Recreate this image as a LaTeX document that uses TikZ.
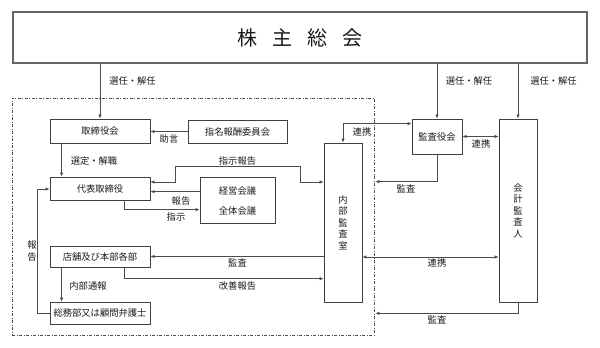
\documentclass[tikz,border=0pt]{standalone}
\usepackage{fontspec}
\newfontfamily\jp{Noto Sans CJK JP}
\usetikzlibrary{arrows.meta,calc}
\begin{document}
\begin{tikzpicture}[x=1pt,y=-1pt,
  txt/.style={font=\jp\fontsize{9.3}{11.5}\selectfont, text=black!90},
  box/.style={txt, draw=black!75, line width=0.8pt, inner sep=0pt, rectangle, align=center},
  lbl/.style={txt, inner sep=0pt, align=center},
  conn/.style={draw=black!70, line width=0.7pt},
  arr/.style={conn, -{Latex[length=4pt,width=3.5pt]}},
  darr/.style={conn, {Latex[length=4pt,width=3.5pt]}-{Latex[length=4pt,width=3.5pt]}},
  dashbox/.style={draw=black!70, line width=0.7pt, dash pattern=on 3pt off 1.5pt on 1pt off 1.5pt, inner sep=0pt}
]
\useasboundingbox (0,0) rectangle (600,348);

% dashed frame
\node[dashbox, minimum width=362pt, minimum height=237pt] (frame) at (193,216.5) {};

% nodes
\node[box, draw=black!60, line width=1.6pt, minimum width=574pt, minimum height=51pt,
      font=\jp\fontsize{20}{24}\selectfont] (gm) at (300,37.5) {株\hspace{15pt}主\hspace{15pt}総\hspace{15pt}会};
\node[box, minimum width=100pt, minimum height=24pt] (tori) at (100,131) {取締役会};
\node[box, minimum width=99pt, minimum height=23pt] (shimei) at (237.5,131.5) {指名報酬委員会};
\node[box, minimum width=100pt, minimum height=23pt] (daihyo) at (100,188.5) {代表取締役};
\node[box, minimum width=75pt, minimum height=46pt] (keiei) at (237.5,200) {};
\node[lbl] (k1) at (237.5,191) {経営会議};
\node[lbl] (k2) at (237.5,211) {全体会議};
\node[box, minimum width=100pt, minimum height=21pt] (tenpo) at (100,256.5) {店舗及び本部各部};
\node[box, minimum width=100pt, minimum height=22pt] (somu) at (100,313) {総務部又は顧問弁護士};
\node[box, minimum width=38pt, minimum height=159pt] (naibu) at (343,222.5) {内\\部\\監\\査\\室};
\node[box, minimum width=50pt, minimum height=35pt] (kansa) at (437,136.5) {監査役会};
\node[box, minimum width=38pt, minimum height=183pt] (kaikei) at (518,210.5) {会\\計\\監\\査\\人};

% helper coordinates
\coordinate (ps) at ($(daihyo.east)+(0,-6.5)$);
\coordinate (rk) at ($(keiei.north west)+(0,15)$);
\coordinate (sj) at ($(keiei.north west)+(0,33)$);
\coordinate (kz) at ($(naibu.north west)+(0,136)$);
\coordinate (r3) at (430,257);
\coordinate (ka1) at ($(frame.north east)+(1,84)$);
\coordinate (ka2) at ($(frame.south east)+(1,-22)$);

% connectors from shareholders meeting
\draw[arr] (gm.south -| tori.north) -- (tori.north);
\draw[arr] (gm.south -| kansa.north) -- (kansa.north);
\draw[arr] (gm.south -| kaikei.north) -- (kaikei.north);
\node[lbl] (l1) at (132.5,81) {選任・解任};
\node[lbl] (l2) at (469,81) {選任・解任};
\node[lbl] (l3) at (553.5,81) {選任・解任};

% board area
\draw[arr] (shimei.west) -- (tori.east |- shimei.west);
\node[lbl] (l4) at (169,139) {助言};
\draw[arr] ($(tori.south west)+(12,0)$) -- ($(daihyo.north west)+(12,0)$);
\node[lbl] (l5) at (94,161) {選定・解職};
\draw[darr] (ps) -- ++(25,0) |- (300,166) |- (naibu.west |- ps);
\node[lbl] (l6) at (237.5,161) {指示報告};
\draw[arr] (rk) -- (daihyo.east |- rk);
\node[lbl] (l7) at (181,201) {報告};
\draw[arr] ($(daihyo.south west)+(75,0)$) |- (sj);
\node[lbl] (l8) at (176,217) {指示};

% stores
\draw[arr] (naibu.west |- tenpo.east) -- (tenpo.east);
\node[lbl] (l9) at (237.5,263) {監査};
\draw[arr] ($(tenpo.south west)+(75,0)$) |- (kz);
\node[lbl] (l10) at (237.5,286) {改善報告};
\draw[arr] ($(tenpo.south west)+(12,0)$) -- ($(somu.north west)+(12,0)$);
\node[lbl] (l11) at (88,286) {内部通報};
\draw[arr] (somu.west) -- ++(-12,0) |- ($(daihyo.west)+(0,0.5)$);
\node[lbl] (l12) at (32,251) {報\\告};

% auditors
\draw[darr] ($(kansa.north west)+(0,5)$) -| (naibu.north);
\node[lbl] (l13) at (362,132) {連携};
\draw[darr] (kansa.east) -- (kaikei.west |- kansa.east);
\node[lbl] (l14) at (481,144) {連携};
\draw[arr] (kansa.south) |- (ka1);
\node[lbl] (l15) at (406,189) {監査};
\draw[darr] (naibu.east |- r3) -- (kaikei.west |- r3);
\node[lbl] (l16) at (437,263) {連携};
\draw[arr] (kaikei.south) |- (ka2);
\node[lbl] (l17) at (437,319.5) {監査};
\end{tikzpicture}
\end{document}
